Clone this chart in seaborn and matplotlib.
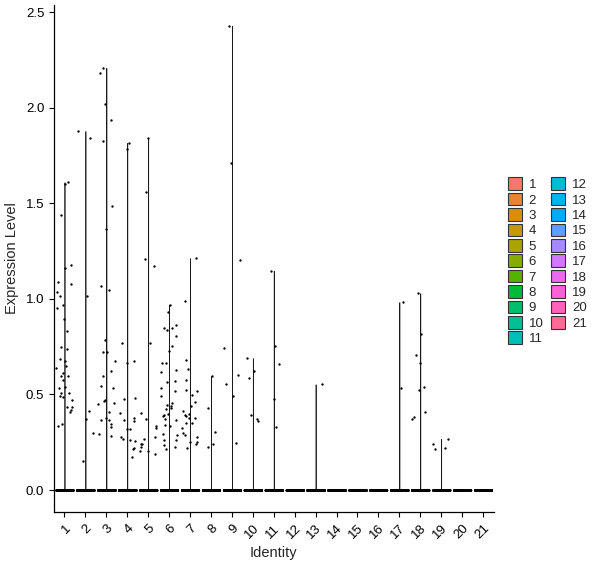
import numpy as np
import pandas as pd
import seaborn as sns
import matplotlib.pyplot as plt
from matplotlib.patches import Patch

# cluster ids
idents = [str(i) for i in range(1, 22)]

# non-zero expression values per cluster
g1 = [1.60, 1.61, 1.437, 1.16, 1.175, 1.08, 1.086, 1.014, 1.038, 0.97, 0.95, 0.897,
      0.83, 0.746, 0.74, 0.65, 0.64, 0.673, 0.687, 0.614, 0.598, 0.596, 0.577, 0.535,
      0.54, 0.509, 0.505, 0.493, 0.488, 0.47, 0.432, 0.435, 0.421, 0.41, 0.346, 0.334]
g2 = [1.878, 1.843, 1.016, 0.413, 0.371, 0.30, 0.152]
g3 = [2.209, 2.183, 2.02, 1.937, 1.827, 1.487, 1.367, 1.069, 1.048, 0.786, 0.72, 0.72,
      0.676, 0.621, 0.598, 0.535, 0.546, 0.472, 0.467, 0.457, 0.45, 0.41, 0.378, 0.366,
      0.366, 0.345, 0.331, 0.293, 0.284]
g4 = [1.816, 1.785, 0.77, 0.676, 0.666, 0.481, 0.478, 0.404, 0.378, 0.366, 0.362, 0.319,
      0.319, 0.279, 0.268, 0.262, 0.258, 0.214, 0.221, 0.174]
g5 = [1.843, 1.559, 1.21, 1.173, 0.77, 0.404, 0.373, 0.335, 0.268, 0.242, 0.24, 0.226,
      0.204, 0.204, 0.279, 0.324, 0.19]
g6 = [0.97, 0.931, 0.837, 0.807, 0.849, 0.863, 0.849, 0.755, 0.727, 0.666, 0.666, 0.628,
      0.617, 0.572, 0.565, 0.518, 0.492, 0.532, 0.445, 0.44, 0.453, 0.424, 0.427, 0.397,
      0.392, 0.385, 0.371, 0.366, 0.34, 0.335, 0.291, 0.286, 0.26, 0.26, 0.235, 0.225, 0.216]
g7 = [1.213, 0.99, 0.68, 0.633, 0.575, 0.523, 0.518, 0.498, 0.462, 0.441, 0.415, 0.399,
      0.392, 0.387, 0.377, 0.377, 0.352, 0.352, 0.324, 0.289, 0.296, 0.279, 0.253, 0.253,
      0.242, 0.221]
g8 = [0.596, 0.43, 0.305, 0.242, 0.225]
g9 = [2.428, 1.71, 1.205, 0.743, 0.601, 0.554, 0.492, 0.246]
g10 = [0.69, 0.622, 0.586, 0.392, 0.373, 0.362]
g11 = [1.147, 0.755, 0.659, 0.478, 0.33]
g12 = []
g13 = [0.553]
g14 = []
g15 = []
g16 = []
g17 = [0.983, 0.533]
g18 = [1.03, 0.816, 0.706, 0.664, 0.539, 0.523, 0.408, 0.382, 0.371]
g19 = [0.268, 0.24, 0.22, 0.214]
g20 = []
g21 = []
nonzero = [g1, g2, g3, g4, g5, g6, g7, g8, g9, g10, g11, g12, g13, g14, g15, g16,
           g17, g18, g19, g20, g21]

# cells with zero expression in each cluster
n_zero = [300] * 21


def hcl_hex(h, c=100, l=65):
    # ggplot2 default hue palette colour (polar Luv -> sRGB)
    hr = np.deg2rad(h)
    u, v = c * np.cos(hr), c * np.sin(hr)
    xn, yn, zn = 95.047, 100.0, 108.883
    y = yn * ((l + 16) / 116) ** 3
    t = xn + 15 * yn + 3 * zn
    up = u / (13 * l) + 4 * xn / t
    vp = v / (13 * l) + 9 * yn / t
    x = 9 * y * up / (4 * vp)
    z = -x / 3 - 5 * y + 3 * y / vp
    m = np.array([[3.240479, -1.537150, -0.498535],
                  [-0.969256, 1.875992, 0.041556],
                  [0.055648, -0.204043, 1.057311]])
    lin = m @ (np.array([x, y, z]) / 100)
    rgb = np.where(lin <= 0.0031308, 12.92 * lin, 1.055 * np.abs(lin) ** (1 / 2.4) - 0.055)
    rgb = np.clip(rgb, 0, 1)
    return '#%02X%02X%02X' % tuple(int(round(k * 255)) for k in rgb)


colors = [hcl_hex(15 + i * 360 / 21) for i in range(21)]
palette = dict(zip(idents, colors))

rows = []
for ident, vals, nz in zip(idents, nonzero, n_zero):
    for val in vals:
        rows.append((ident, val))
    for _ in range(nz):
        rows.append((ident, 0.0))
df = pd.DataFrame(rows, columns=['ident', 'expr'])

sns.set_style('white')
plt.rcParams['font.family'] = ['Liberation Sans', 'DejaVu Sans']

fig = plt.figure(figsize=(6, 5.68), dpi=100)
ax = fig.add_axes([0.09, 0.0986, 0.7325, 0.8926])

sns.violinplot(data=df, x='ident', y='expr', hue='ident', order=idents,
               hue_order=idents, palette=palette, density_norm='width', cut=0,
               bw_method=0.004, gridsize=1500, inner=None, width=0.9, linewidth=0.5,
               linecolor='#1a1a1a', legend=False, dodge=False, ax=ax)

np.random.seed(3)
sns.stripplot(data=df, x='ident', y='expr', order=idents, color='black',
              jitter=0.4, size=1.7, linewidth=0, ax=ax)

ax.set_xlim(-0.5, 20.5)
ax.set_ylim(-0.115, 2.537)
ax.set_yticks([0.0, 0.5, 1.0, 1.5, 2.0, 2.5])
ax.set_yticklabels(['0.0', '0.5', '1.0', '1.5', '2.0', '2.5'])
ax.set_xticks(range(21))
ax.set_xticklabels(idents, rotation=45, ha='right', rotation_mode='anchor')

for side in ['top', 'right']:
    ax.spines[side].set_visible(False)
for side in ['left', 'bottom']:
    ax.spines[side].set_color('black')
    ax.spines[side].set_linewidth(0.9)
ax.tick_params(axis='both', direction='out', length=3.5, width=0.8, color='black',
               labelsize=9.5, labelcolor='black', left=True, bottom=True)
ax.tick_params(axis='x', pad=4)

ax.set_xlabel('Identity', fontsize=10.5, labelpad=3)
ax.set_ylabel('Expression Level', fontsize=10.5, labelpad=5)

handles = [Patch(facecolor=palette[i], edgecolor='#333333', linewidth=0.8, label=i)
           for i in idents]
fig.legend(handles=handles, loc='center left', bbox_to_anchor=(0.846, 0.54),
           ncol=2, frameon=False, fontsize=9.5, handlelength=1.1, handleheight=1.1,
           handletextpad=0.5, labelspacing=0.12, columnspacing=0.55,
           borderpad=0, borderaxespad=0)

fig.savefig('out.png', dpi=100)
